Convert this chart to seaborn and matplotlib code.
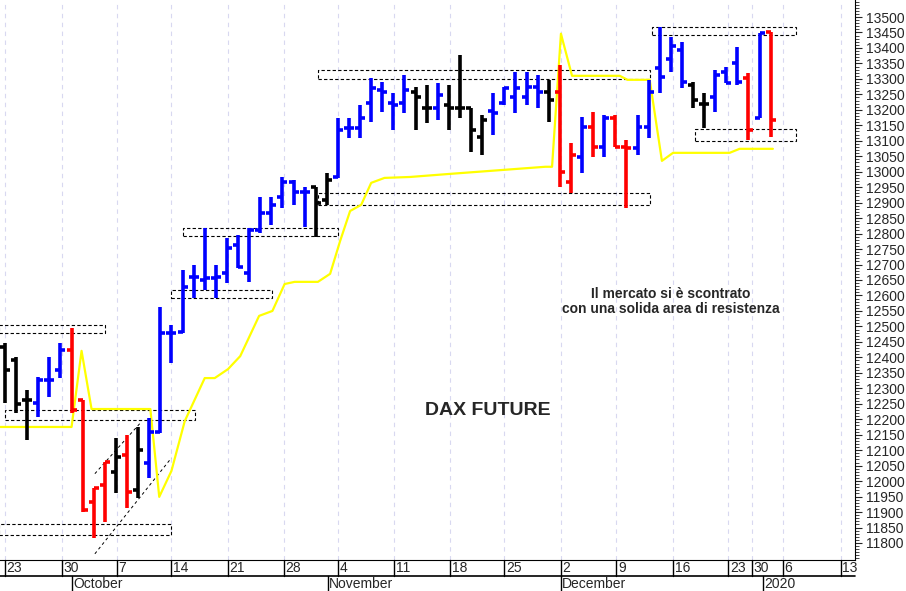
import numpy as np
import matplotlib
matplotlib.use('Agg')
import matplotlib.pyplot as plt
import matplotlib.transforms as mtransforms
from matplotlib.ticker import MultipleLocator
import seaborn as sns

sns.set_style('white')
plt.rcParams['font.family'] = ['Liberation Sans', 'DejaVu Sans']

# daily DAX future bars (index 0 = 23 Sep 2019)
highs = [12446, 12401, 12294, 12336, 12401, 12446, 12495, 12262, 11978, 12062,
         12139, 12149, 12175, 12204, 12563, 12505, 12682, 12698, 12818, 12698,
         12786, 12796, 12818, 12918, 12918, 12983, 12973, 12951, 12951, 12996,
         13174, 13174, 13216, 13303, 13290, 13255, 13313, 13274, 13280, 13287,
         13280, 13377, 13206, 13184, 13255, 13274, 13322, 13322, 13313, 13296,
         13345, 13093, 13177, 13193, 13184, 13184, 13103, 13184, 13296, 13468,
         13435, 13419, 13290, 13255, 13329, 13339, 13403, 13319, 13448, 13452]
lows = [12252, 12220, 12132, 12207, 12272, 12333, 12220, 11900, 11816, 11868,
        11962, 11913, 11945, 12010, 12155, 12382, 12479, 12592, 12618, 12592,
        12640, 12689, 12643, 12802, 12828, 12883, 12892, 12821, 12789, 12892,
        12980, 13109, 13109, 13161, 13193, 13135, 13190, 13135, 13158, 13167,
        13135, 13174, 13064, 13054, 13119, 13216, 13190, 13216, 13206, 13161,
        12951, 12931, 12996, 13048, 13048, 13080, 12883, 13054, 13109, 13255,
        13322, 13271, 13206, 13141, 13193, 13287, 13280, 13103, 13174, 13112]
opens = [12433, 12391, 12262, 12252, 12326, 12359, 12424, 12262, 11933, 11988,
         12030, 12085, 11971, 12059, 12159, 12479, 12482, 12660, 12650, 12655,
         12673, 12763, 12673, 12812, 12867, 12918, 12967, 12934, 12951, 12909,
         12983, 13141, 13141, 13222, 13264, 13222, 13222, 13258, 13206, 13206,
         13216, 13206, 13206, 13112, 13196, 13222, 13242, 13242, 13274, 13258,
         13258, 12967, 13048, 13145, 13080, 13174, 13080, 13077, 13145, 13335,
         13364, 13393, 13280, 13219, 13242, 13322, 13351, 13303, 13174, 13452]
closes = [12359, 12249, 12262, 12326, 12326, 12424, 12230, 11907, 11978, 12062,
          12078, 11965, 12101, 12160, 12479, 12479, 12627, 12660, 12655, 12660,
          12753, 12692, 12812, 12867, 12892, 12967, 12934, 12934, 12899, 12973,
          13135, 13141, 13174, 13271, 13258, 13216, 13264, 13242, 13206, 13248,
          13206, 13206, 13135, 13167, 13190, 13271, 13271, 13274, 13258, 13232,
          12999, 13054, 13145, 13080, 13174, 13080, 13077, 13145, 13258, 13306,
          13406, 13290, 13232, 13219, 13313, 13287, 13290, 13135, 13448, 13167]
bar_colors = list('kkkbbbrrrrkrkbbbbbbbbbbbbbbbbkbbbbbbbkkbkkkkbbbbbkrrbrbrrbbbbbkkbbbrbr')
bar_colors[28] = 'k'

# yellow indicator line (x in trading-day index)
ind_x = [-0.5, 6.0, 6.9, 7.8, 13.1, 13.9, 15.0, 16.2, 18.0, 18.9, 20.1, 21.2,
         22.9, 24.1, 25.2, 26.1, 28.2, 29.3, 30.2, 31.1, 32.1, 33.0, 34.2, 36.5,
         40.1, 48.7, 49.3, 50.1, 51.1, 55.4, 56.1, 58.1, 59.2, 60.2, 65.3, 66.2, 69.2]
ind_y = [12175, 12175, 12421, 12233, 12233, 11949, 12033, 12194, 12333, 12333,
         12362, 12404, 12534, 12550, 12637, 12644, 12644, 12670, 12776, 12873,
         12893, 12964, 12980, 12983, 12993, 13016, 13016, 13446, 13310, 13310,
         13297, 13297, 13035, 13061, 13061, 13074, 13074]

# dashed support/resistance boxes: x0, x1, low, high
box_x0 = [-0.5, 0.0, -0.5, 15.0, 16.0, 28.2, 28.2, 58.3, 62.2]
box_x1 = [9.0, 17.1, 15.0, 24.1, 30.0, 58.1, 58.1, 71.3, 71.3]
box_lo = [12480, 12198, 11826, 12592, 12792, 13300, 12892, 13442, 13100]
box_hi = [12505, 12230, 11862, 12618, 12818, 13329, 12931, 13468, 13138]

# diagonal channel lines
chan_x = [[8.1, 12.2], [8.1, 15.0]]
chan_y = [[12024, 12188], [11765, 12075]]

tick_pos = [0, 5.1, 10.1, 15.0, 20.1, 25.1, 30.0, 35.1, 40.1, 45.0, 50.1, 55.1,
            60.2, 65.2, 67.3, 70.1, 75.3]
tick_lab = ['23', '30', '7', '14', '21', '28', '4', '11', '18', '25', '2', '9',
            '16', '23', '30', '6', '13']
month_pos = [6.05, 29.1, 50.1, 68.3]
month_lab = ['October', 'November', 'December', '2020']

fig = plt.figure(figsize=(9.06, 5.91), dpi=100)
ax = fig.add_axes([0, 31 / 591, 855 / 906, 560 / 591])
xlim = (-0.45, 76.6)
ax.set_xlim(*xlim)
ax.set_ylim(11745, 13555)

for x in tick_pos:
    ax.axvline(x, color='#d8d8f0', lw=0.8, ls=(0, (4, 4)), zorder=0)

ax.plot(ind_x, ind_y, color='#ffff00', lw=1.6, zorder=2)

for x0, x1, lo, hi in zip(box_x0, box_x1, box_lo, box_hi):
    ax.add_patch(plt.Rectangle((x0, lo), x1 - x0, hi - lo, fill=False,
                               ec='black', lw=0.8, ls=(0, (3, 2)), zorder=1))
for cx, cy in zip(chan_x, chan_y):
    ax.plot(cx, cy, color='black', lw=0.7, ls=(0, (3, 3)), zorder=1)

cmap = {'k': 'black', 'b': '#0000ff', 'r': '#ff0000'}
idx = np.arange(len(highs))
cols = [cmap[c] for c in bar_colors]
ax.vlines(idx, lows, highs, colors=cols, lw=2.6, zorder=3)
ax.hlines(opens, idx - 0.45, idx, colors=cols, lw=2.6, zorder=3)
ax.hlines(closes, idx, idx + 0.45, colors=cols, lw=2.6, zorder=3)

ax.text(43.5, 12228, 'DAX FUTURE', fontsize=14, fontweight='bold', ha='center', va='center')
ax.text(60, 12580, 'Il mercato si è scontrato\ncon una solida area di resistenza',
        fontsize=10, fontweight='bold', ha='center', va='center', linespacing=1.1)

ax.yaxis.tick_right()
ax.set_yticks(np.arange(11800, 13501, 50))
ax.yaxis.set_minor_locator(MultipleLocator(10))
ax.tick_params(axis='y', which='major', length=5, labelsize=10, pad=3, direction='out', right=True)
ax.tick_params(axis='y', which='minor', length=3, right=True)
ax.set_xticks([])
for s in ['top', 'left']:
    ax.spines[s].set_visible(False)
ax.spines['right'].set_color('black')
ax.spines['bottom'].set_color('black')

# date axis drawn below the plot
tr = mtransforms.blended_transform_factory(ax.transData, ax.transAxes)
row = 16 / 560
ax.plot(xlim, [-row, -row], transform=tr, color='black', lw=1.2, clip_on=False)
for x, lab in zip(tick_pos, tick_lab):
    ax.plot([x, x], [0, -row], transform=tr, color='black', lw=1, clip_on=False)
    ax.text(x + 0.15, -row / 2, lab, transform=tr, fontsize=10, ha='left', va='center')
for x, lab in zip(month_pos, month_lab):
    ax.plot([x, x], [-row, -2 * row], transform=tr, color='black', lw=1, clip_on=False)
    ax.text(x + 0.1, -1.5 * row, lab, transform=tr, fontsize=10, ha='left', va='center')

fig.savefig('out.png', dpi=100)
